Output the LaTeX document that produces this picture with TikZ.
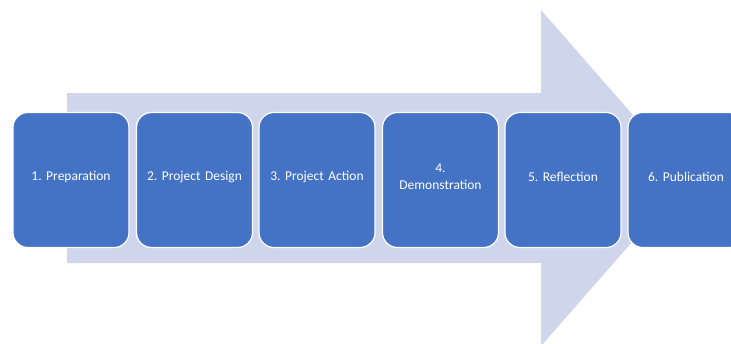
\documentclass[tikz,border=0pt]{standalone}
\usepackage{fontspec}
\setmainfont{Carlito}
\frenchspacing
\definecolor{arrowfill}{HTML}{CFD5EA}
\definecolor{boxfill}{HTML}{4472C4}
\begin{document}
\begin{tikzpicture}[x=1pt,y=-1pt,
  stepbox/.style={draw=white, line width=1.2pt, fill=boxfill, rounded corners=15pt,
    minimum width=116pt, minimum height=135pt, inner sep=0pt},
  steplabel/.style={text=white, font=\fontsize{13.5}{17}\selectfont, align=center, text width=114pt}]
\useasboundingbox (0,0) rectangle (731,343);
\clip (0,0) rectangle (731,343);
\fill[arrowfill] (67,93) -- (541,93) -- (541,10) -- (688,178) -- (541,346) -- (541,263) -- (67,263) -- cycle;
\foreach \i/\x/\t in {1/71/{1. Preparation},2/194.5/{2. Project Design},3/317/{3. Project Action},4/440.5/{4.\\Demonstration},5/563/{5. Reflection},6/686/{6. Publication}}{
  \node[stepbox] (b\i) at (\x,180) {};
  \node[steplabel] (t\i) at (\x,177) {\t};
}
\end{tikzpicture}
\end{document}
